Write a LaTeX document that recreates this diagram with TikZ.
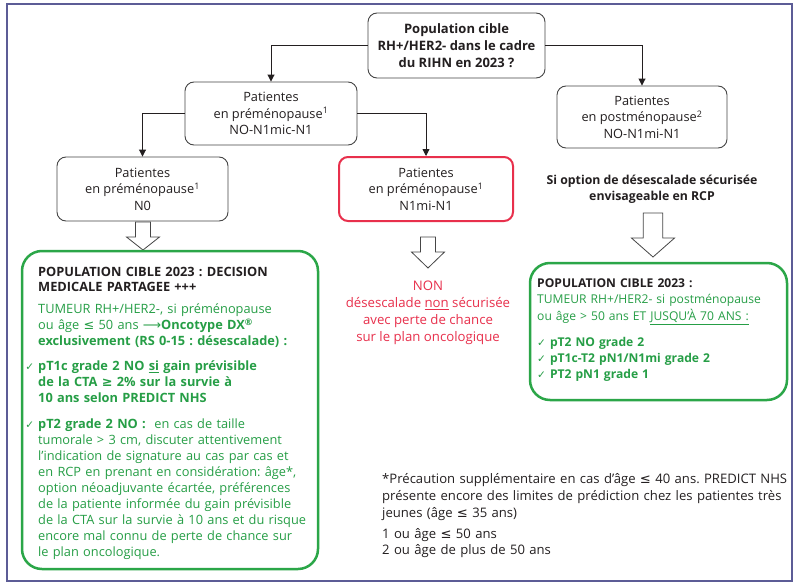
\documentclass[tikz,border=0pt]{standalone}
\usepackage{fontspec}
\setmainfont{Open Sans}
\newfontfamily\sym{DejaVu Sans}
\usetikzlibrary{arrows.meta,calc}
\AtBeginDocument{\frenchspacing}
\definecolor{dark}{RGB}{35,31,32}
\definecolor{grn}{RGB}{43,166,72}
\definecolor{grntxt}{RGB}{38,158,70}
\definecolor{rouge}{RGB}{232,48,76}
\definecolor{cadre}{RGB}{92,92,150}
\definecolor{gbord}{RGB}{70,70,70}
\newcommand\chk{\leavevmode\llap{{\sym\fontsize{10.5}{10}\selectfont ✓}\hspace{4pt}}}
\newcommand\chkr{{\sym\fontsize{10.5}{10}\selectfont ✓}\hspace{4pt}}
\newcommand\harrow[5]{% x, ytop, yhead, ytip, shaft half
  \draw[hollow] (#1-#5,#2) -- (#1+#5,#2) -- (#1+#5,#3) -- (#1+2.2*#5,#3) -- (#1,#4) -- (#1-2.2*#5,#3) -- (#1-#5,#3) -- cycle;}
\begin{document}
\begin{tikzpicture}[x=1pt,y=-1pt,
  every node/.style={inner sep=0pt, text=dark},
  txt/.style={font=\fontsize{12.8}{16}\selectfont\frenchspacing},
  btxt/.style={font=\fontsize{12.8}{16.5}\selectfont},
  gbox/.style={draw=gbord, line width=0.9pt, rounded corners=9pt, align=center, btxt},
  rbox/.style={draw=rouge, line width=2pt, rounded corners=9pt, align=center, btxt},
  greenbox/.style={draw=grn, line width=2.5pt, rounded corners=20pt},
  conn/.style={draw=dark, line width=0.9pt, -{Triangle[width=7pt,length=7pt]}},
  hollow/.style={draw=gbord, line width=0.8pt, fill=white}
]
\useasboundingbox (0,0) rectangle (800,586);
\fill[white] (0,0) rectangle (800,586);
\draw[cadre, line width=1.5pt] (7,4) rectangle (792,581);

\node[gbox, minimum width=177pt, minimum height=65pt, font=\fontsize{13}{17}\selectfont\bfseries] (top) at (456.5,45.5) {Population cible\\RH+/HER2- dans le cadre\\du RIHN en 2023 ?};
\node[gbox, minimum width=172pt, minimum height=63pt] (b2) at (271,113.5) {Patientes\\en préménopause\textsuperscript{1}\\NO-N1mic-N1};
\node[gbox, minimum width=170pt, minimum height=62pt] (b3) at (642,117) {Patientes\\en postménopause\textsuperscript{2}\\NO-N1mi-N1};
\node[gbox, minimum width=171pt, minimum height=64pt] (b4) at (142.5,189) {Patientes\\en préménopause\textsuperscript{1}\\N0};
\node[rbox, minimum width=174pt, minimum height=64pt] (b5) at (426,189) {Patientes\\en préménopause\textsuperscript{1}\\N1mi-N1};

\draw[conn] (top.west) -| (b2.north);
\draw[conn] (top.east) -| (b3.north);
\draw[conn] (b2.west) -| (b4.north);
\draw[conn] (b2.east) -| (b5.north);

\node[align=center, font=\fontsize{12.3}{16.5}\selectfont\bfseries] (si) at (652,189.5) {Si option de désescalade sécurisée\\envisageable en RCP};
\node[align=center, text=rouge, font=\fontsize{13.2}{17}\selectfont] (non) at (428,313) {NON\\désescalade \underline{non} sécurisée\\avec perte de chance\\sur le plan oncologique};

\harrow{143}{222}{237}{250}{7.5}
\harrow{428}{237}{252}{268}{7.5}
\harrow{653}{213}{238}{257}{9.8}

\draw[greenbox] (22,251) rectangle (318,569);
\draw[greenbox] (530,263) rectangle (787,400);

\node[txt, anchor=north west, text width=278pt, align=left] (left) at (38,267) {%
{\bfseries POPULATION CIBLE 2023 : DECISION\\[-1pt]MEDICALE PARTAGEE +++}\par\vspace{6pt}
\color{grntxt}TUMEUR RH+/HER2-, si préménopause\\ou âge {\sym ≤} 50 ans {\sym ⟶}\textbf{Oncotype DX\textsuperscript{®}}\\\textbf{exclusivement (RS 0-15 : désescalade) :}\par\vspace{9pt}
\chk\textbf{pT1c grade 2 NO \underline{si} gain prévisible\\de la CTA {\sym ≥} 2\% sur la survie à\\10 ans selon PREDICT NHS}\par\vspace{10pt}
\chk\textbf{pT2 grade 2 NO :}\ \ en cas de taille\\tumorale > 3 cm, discuter attentivement\\l’indication de signature au cas par cas et\\en RCP en prenant en considération: âge*,\\option néoadjuvante écartée, préférences\\de la patiente informée du gain prévisible\\de la CTA sur la survie à 10 ans et du risque\\encore mal connu de perte de chance sur\\le plan oncologique.};

\node[anchor=north west, text width=248pt, align=left, font=\fontsize{12.1}{16.3}\selectfont\frenchspacing] (right) at (537,278.5) {%
{\bfseries POPULATION CIBLE 2023 :}\\
\color{grntxt}TUMEUR RH+/HER2- si postménopause\\ou âge > 50 ans ET \underline{JUSQU’À 70 ANS :}\par\vspace{10pt}
\textbf{\chkr pT2 NO grade 2\\\chkr pT1c-T2 pN1/N1mi grade 2\\\chkr PT2 pN1 grade 1}};

\node[anchor=north west, text width=420pt, align=left, font=\fontsize{13.1}{17}\selectfont\frenchspacing] (foot) at (382,473.5) {%
*Précaution supplémentaire en cas d’âge {\sym ≤} 40 ans. PREDICT NHS\\présente encore des limites de prédiction chez les patientes très\\jeunes (âge {\sym ≤} 35 ans)\par\vspace{4pt}
1 ou âge {\sym ≤} 50 ans\\[-1pt]2 ou âge de plus de 50 ans};
\end{tikzpicture}
\end{document}
